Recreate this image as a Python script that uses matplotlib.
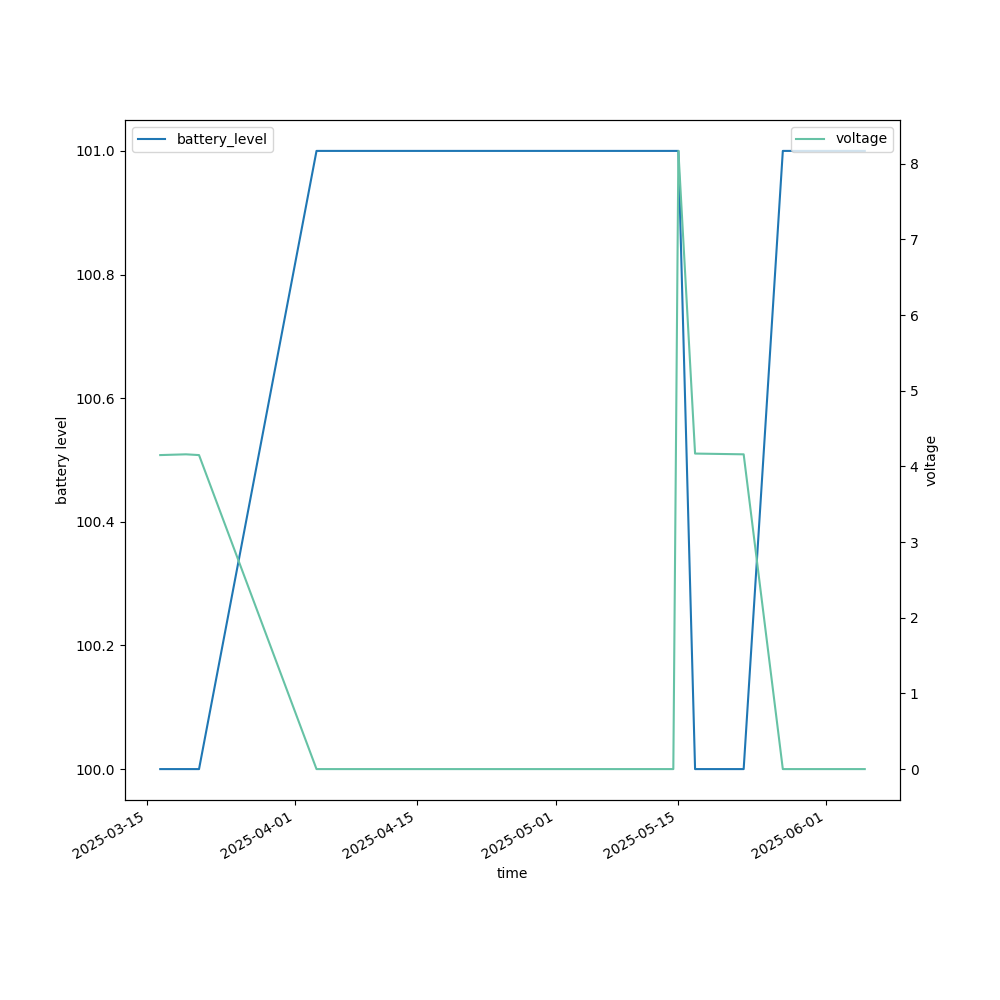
import matplotlib
matplotlib.use('Agg')
import matplotlib.pyplot as plt
import matplotlib.dates as mdates
import pandas as pd

# readings
times = pd.to_datetime([
    '2025-03-16 13:00',
    '2025-03-19 12:00',
    '2025-03-21 00:00',
    '2025-04-03 12:00',
    '2025-05-14 12:00',
    '2025-05-15 02:00',
    '2025-05-17 00:00',
    '2025-05-22 14:00',
    '2025-05-27 02:00',
    '2025-06-05 12:00',
])

battery_level = [100, 100, 100, 101, 101, 101, 100, 100, 101, 101]

voltage = [4.15, 4.16, 4.15, 0.0, 0.0, 8.17, 4.17, 4.16, 0.0, 0.0]


fig, ax = plt.subplots(
    figsize=(10, 10)
)

ax.plot(
    times,
    battery_level,
    color='#1f77b4',
    label='battery_level'
)

ax.set_xlabel('time')
ax.set_ylabel('battery level')
ax.legend(loc='upper left')

ax2 = ax.twinx()

ax2.plot(
    times,
    voltage,
    color='#66c2a5',
    label='voltage'
)

ax2.set_ylabel('voltage')
ax2.legend(loc='upper right')

ax.xaxis.set_major_formatter(
    mdates.DateFormatter('%Y-%m-%d')
)

fig.autofmt_xdate()

plt.savefig('out.png', dpi=100)
